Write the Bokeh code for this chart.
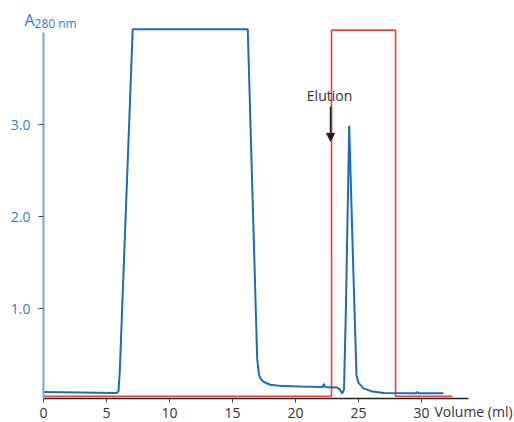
from bokeh.plotting import figure
from bokeh.models import Range1d, FixedTicker, Label, Arrow, NormalHead, PrintfTickFormatter
from bokeh.embed import file_html
from bokeh.resources import INLINE

# Chromatogram (A280) - volume in ml, absorbance
volume = [0.0, 3.0, 5.8, 5.95, 6.05, 7.08, 12.0, 16.21, 16.96, 17.1, 17.25, 17.5, 18.0, 19.0,
          20.4, 22.15, 22.25, 22.35, 23.0, 23.3, 23.5, 23.7, 23.85, 24.0, 24.26, 24.55, 24.84,
          25.0, 25.4, 26.0, 27.0, 29.55, 29.66, 29.77, 31.75]
a280 = [0.09, 0.085, 0.08, 0.10, 0.30, 4.04, 4.04, 4.04, 0.45, 0.28, 0.23, 0.20, 0.17, 0.155,
        0.15, 0.145, 0.18, 0.145, 0.14, 0.14, 0.12, 0.075, 0.12, 1.0, 2.99, 1.6, 0.27,
        0.19, 0.13, 0.10, 0.08, 0.078, 0.09, 0.078, 0.078]

# Elution block (fraction / buffer step)
step_volume = [0.0, 22.86, 22.86, 27.94, 27.94, 32.46]
step_level = [0.045, 0.045, 4.03, 4.03, 0.045, 0.045]

x_ticks = [0, 5, 10, 15, 20, 25, 30]
y_ticks = [1.0, 2.0, 3.0]

FONT = "Open Sans"
BLUE = "#1a6db8"
RED = "#e8413b"

# frame covers the whole canvas; axes are pinned at the data origin
p = figure(width=514, height=422, output_backend="svg", toolbar_location=None,
           x_range=Range1d(-3.413, 37.38), y_range=Range1d(-0.241, 4.353),
           min_border=0)
p.outline_line_color = None
p.grid.visible = False
p.background_fill_color = "white"

p.line(step_volume, step_level, line_color=RED, line_width=1.6)
p.line(volume, a280, line_color=BLUE, line_width=2)

# axes
xa = p.xaxis[0]
xa.fixed_location = 0.02
xa.bounds = (0, 33.73)
xa.ticker = FixedTicker(ticks=x_ticks)
xa.axis_line_color = "#222222"
xa.axis_line_width = 1.5
xa.major_tick_line_color = "#444444"
xa.major_tick_in = 0
xa.major_tick_out = 4
xa.minor_tick_line_color = None
xa.major_label_standoff = 5
xa.major_label_text_font = FONT
xa.major_label_text_font_size = "14px"
xa.major_label_text_color = "#333333"

ya = p.yaxis[0]
ya.fixed_location = 0
ya.bounds = (0.02, 4.005)
ya.ticker = FixedTicker(ticks=y_ticks)
ya.formatter = PrintfTickFormatter(format="%.1f")
ya.axis_line_color = "#73a9da"
ya.axis_line_width = 2
ya.major_tick_line_color = "#444444"
ya.major_tick_in = 0
ya.major_tick_out = 5
ya.minor_tick_line_color = None
ya.major_label_standoff = 8
ya.major_label_text_font = FONT
ya.major_label_text_font_size = "14px"
ya.major_label_text_color = "#2f7fc1"

# axis titles
p.add_layout(Label(x=31.03, y=-0.015, text="Volume (ml)", text_font=FONT,
                   text_font_size="14px", text_color="#333333", text_baseline="top",
                   text_align="left"))
p.add_layout(Label(x=-1.508, y=4.144, text="A", text_font=FONT, text_font_size="16px",
                   text_color="#2f7fc1", text_baseline="alphabetic", text_align="left"))
p.add_layout(Label(x=-0.71, y=4.10, text="280 nm", text_font=FONT, text_font_size="12px",
                   text_color="#2f7fc1", text_baseline="alphabetic", text_align="left"))

# Elution annotation
p.add_layout(Label(x=22.7, y=3.21, text="Elution", text_font=FONT, text_font_size="14px",
                   text_color="#333333", text_baseline="bottom", text_align="center"))
p.add_layout(Arrow(x_start=22.78, y_start=3.2, x_end=22.78, y_end=2.82,
                   line_color="#222222", line_width=1.5,
                   end=NormalHead(size=8, fill_color="#222222", line_color="#222222")))

open("out.html", "w").write(file_html(p, INLINE))
